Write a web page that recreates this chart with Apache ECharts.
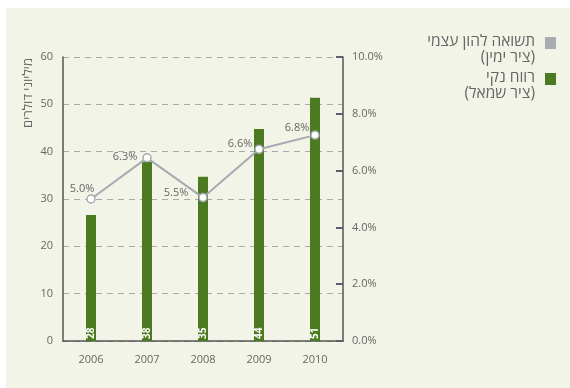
<!DOCTYPE html>
<html>
<head>
<meta charset="utf-8">
<script src="https://cdn.jsdelivr.net/npm/echarts@6/dist/echarts.min.js"></script>
<style>
  html, body { margin: 0; padding: 0; background: #fff; }
  #chart { position: absolute; left: 6px; top: 8px; width: 564px; height: 380px; background: #f3f4e8; }
</style>
</head>
<body>
<div id="chart"></div>
<script>
var years = ['2006', '2007', '2008', '2009', '2010'];
var profit = [26.6, 37.8, 34.7, 44.8, 51.4];          // bar heights (left axis, $M)
var profitLabels = ['28', '38', '35', '44', '51'];
var roe = [5.0, 6.45, 5.05, 6.75, 7.25];               // point heights (right axis, %)
var roeLabels = ['5.0%', '6.3%', '5.5%', '6.6%', '6.8%'];
var leftTicks = [0, 10, 20, 30, 40, 50, 60];
var rightTicks = [0, 2, 4, 6, 8, 10];
var legendNames = ['תשואה להון עצמי', 'רווח נקי'];
var legendSubs = ['(ציר ימין)', '(ציר שמאל)'];

var FONT = '"Open Sans", "DejaVu Sans", sans-serif';
var GRAY = '#a9adb3';
var GREEN = '#4b7a20';
var labelShift = [[-9, -10], [-22, -1], [-27, -5], [-19, -5], [-18, -7]];
var RLM = '\u200F';

// legend drawn by hand: icon on the right, two right-aligned lines of text
var legendGraphics = [];
[GRAY, GREEN].forEach(function (c, i) {
    var top = 29 + i * 36;
    legendGraphics.push({ type: 'rect', left: 539, top: top, shape: { width: 11, height: 12 }, style: { fill: c } });
    legendGraphics.push({ type: 'text', right: 35, top: top - 3, style: { text: RLM + legendNames[i] + RLM, fontSize: 15.5, fill: '#666', fontFamily: FONT } });
    legendGraphics.push({ type: 'text', right: 35, top: top + 13, style: { text: RLM + legendSubs[i] + RLM, fontSize: 15.5, fill: '#666', fontFamily: FONT } });
});
legendGraphics.push({ type: 'text', x: 22, y: 85, rotation: Math.PI / 2, style: { text: 'מיליוני דולרים', fontSize: 13, fill: '#666', fontFamily: FONT, align: 'center', verticalAlign: 'middle' } });

var myChart = echarts.init(document.getElementById('chart'));
var option = {
    animation: false,
    textStyle: { fontFamily: FONT },
    grid: { left: 57, right: 227, top: 49, bottom: 47 },
    graphic: legendGraphics,
    xAxis: {
        type: 'category',
        data: years,
        axisLine: { lineStyle: { color: '#555', width: 1.5 } },
        axisTick: { show: false },
        axisLabel: { color: '#666', fontSize: 11, margin: 13 }
    },
    yAxis: [
        {
            type: 'value',
            min: leftTicks[0],
            max: leftTicks[leftTicks.length - 1],
            interval: 10,
            axisLine: { show: true, lineStyle: { color: '#555', width: 1.5 } },
            axisTick: { show: false },
            axisLabel: { color: '#666', fontSize: 11, margin: 10 },
            splitLine: { lineStyle: { color: '#aaa', type: [6, 5], width: 1 } }
        },
        {
            type: 'value',
            min: rightTicks[0],
            max: rightTicks[rightTicks.length - 1],
            interval: 2,
            axisLine: { show: true, lineStyle: { color: '#555', width: 1.5 } },
            axisTick: { show: true, inside: true, length: 7, lineStyle: { color: '#5a6068', width: 2 } },
            axisLabel: { color: '#666', fontSize: 11, margin: 9, formatter: function (v) { return v.toFixed(1) + '%'; } },
            splitLine: { show: false }
        }
    ],
    series: [
        {
            name: legendNames[1],
            type: 'bar',
            yAxisIndex: 0,
            barWidth: 10,
            itemStyle: { color: GREEN },
            label: {
                show: true,
                position: 'insideBottom',
                rotate: 90,
                align: 'left',
                verticalAlign: 'middle',
                distance: 2,
                color: '#fff',
                fontSize: 10,
                fontWeight: 'bold',
                formatter: function (p) { return profitLabels[p.dataIndex]; }
            },
            data: profit
        },
        {
            name: legendNames[0],
            type: 'line',
            yAxisIndex: 1,
            symbol: 'circle',
            symbolSize: 8,
            lineStyle: { color: '#a5aab0', width: 2 },
            itemStyle: { color: '#fff', borderColor: '#a5aab0', borderWidth: 1.5 },
            label: {
                show: true,
                position: 'inside',
                color: '#666',
                fontSize: 11,
                formatter: function (p) { return roeLabels[p.dataIndex]; }
            },
            data: roe.map(function (v, i) {
                return { value: v, label: { offset: labelShift[i] } };
            })
        }
    ]
};
myChart.setOption(option);
</script>
</body>
</html>
